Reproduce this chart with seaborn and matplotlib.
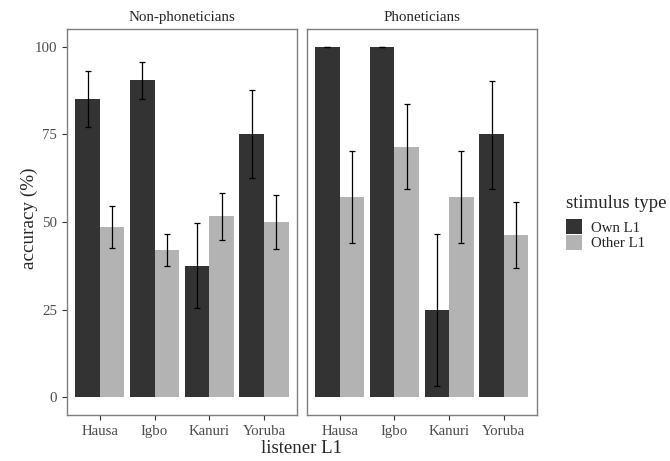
import numpy as np
import pandas as pd
import seaborn as sb
from matplotlib import pyplot as plt
from matplotlib.patches import Patch

# data
groups = ["Non-phoneticians", "Phoneticians"]
l1 = ["Hausa", "Igbo", "Kanuri", "Yoruba"]
stim = ["Own L1", "Other L1"]

non_own = [85.0, 90.5, 37.5, 75.0]
non_own_lo = [77.0, 85.0, 25.5, 62.5]
non_own_hi = [93.0, 95.7, 49.6, 87.5]
non_other = [48.5, 42.0, 51.8, 50.0]
non_other_lo = [42.5, 37.5, 45.0, 42.3]
non_other_hi = [54.5, 46.5, 58.3, 57.7]

pho_own = [100.0, 100.0, 25.0, 75.0]
pho_own_lo = [100.0, 100.0, 3.3, 59.5]
pho_own_hi = [100.0, 100.0, 46.7, 90.3]
pho_other = [57.1, 71.4, 57.1, 46.4]
pho_other_lo = [44.0, 59.3, 44.0, 37.0]
pho_other_hi = [70.3, 83.5, 70.3, 55.8]

rows = []
tables = {
	"Non-phoneticians": [(non_own, non_own_lo, non_own_hi), (non_other, non_other_lo, non_other_hi)],
	"Phoneticians": [(pho_own, pho_own_lo, pho_own_hi), (pho_other, pho_other_lo, pho_other_hi)],
}
for g in groups:
	for s, (v, lo, hi) in zip(stim, tables[g]):
		for i, c in enumerate(l1):
			rows.append([g, c, s, v[i], lo[i], hi[i]])
df = pd.DataFrame(rows, columns=["group", "L1", "stim", "acc", "lo", "hi"])

colors = {"Own L1": "#333333", "Other L1": "#b3b3b3"}

sb.set_style("white")
plt.rcParams["font.family"] = ["Liberation Serif", "DejaVu Serif"]

fig = plt.figure(figsize=(6.7, 4.61), dpi=100)
ax1 = fig.add_axes([0.100, 0.100, 0.343, 0.837])
ax2 = fig.add_axes([0.458, 0.100, 0.343, 0.837])

for ax, g in zip([ax1, ax2], groups):
	d = df[df.group == g]
	sb.barplot(data=d, x="L1", y="acc", hue="stim", order=l1, hue_order=stim,
		palette=colors, errorbar=None, width=0.9, linewidth=0, legend=False, ax=ax)
	# error bars at the bar centres
	for s, cont in zip(stim, ax.containers):
		ds = d[d.stim == s].set_index("L1").loc[l1]
		xs = [b.get_x() + b.get_width() / 2 for b in cont]
		ys = ds["acc"].values
		err = np.vstack([ys - ds["lo"].values, ds["hi"].values - ys])
		ax.errorbar(xs, ys, yerr=err, fmt="none", ecolor="black", elinewidth=0.9,
			capsize=2.0, capthick=0.9)
	ax.set_xlim(-0.6, 3.6)
	ax.set_ylim(-5, 105)
	ax.set_yticks([0, 25, 50, 75, 100])
	ax.set_xlabel("")
	ax.set_ylabel("")
	ax.set_title(g, fontsize=10.8, pad=6)
	ax.tick_params(axis="both", labelsize=10.7, labelcolor="#4d4d4d", color="#333333",
		length=3.5, width=0.8, left=True, bottom=True)
	for sp in ax.spines.values():
		sp.set_color("#7f7f7f")
		sp.set_linewidth(1.0)

ax2.tick_params(axis="y", left=False, labelleft=False)

fig.text(0.45, 0.028, "listener L1", ha="center", va="center", fontsize=13.5)
fig.text(0.044, 0.527, "accuracy (%)", ha="center", va="center", rotation=90, fontsize=13.8)

handles = [Patch(facecolor=colors[s], edgecolor="none") for s in stim]
leg = fig.legend(handles, stim, title="stimulus type", loc="upper left",
	bbox_to_anchor=(0.845, 0.576), frameon=False, fontsize=10.7, title_fontsize=13.5,
	handlelength=1.08, handleheight=1.15, handletextpad=0.6, labelspacing=0.0,
	borderpad=0, borderaxespad=0)
leg._legend_box.align = "left"
leg._legend_box.sep = 5

fig.savefig("out.png", dpi=100)
